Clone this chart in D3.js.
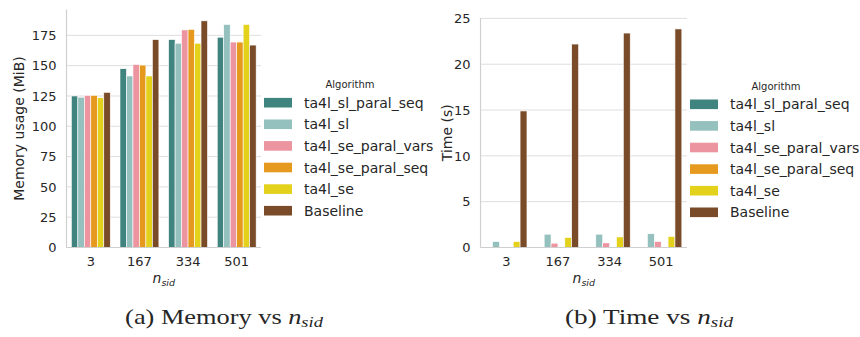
<!DOCTYPE html>
<html>
<head>
<meta charset="utf-8">
<script src="https://d3js.org/d3.v7.min.js"></script>
<style>
  body { margin: 0; background: #fff; }
  svg { display: block; }
  text { fill: #262626; }
</style>
</head>
<body>
<svg id="fig" width="860" height="337"></svg>
<script>
// categories on x (n_sid) and the algorithms (hue)
const categories = ['3', '167', '334', '501'];
const algorithms = ['ta4l_sl_paral_seq', 'ta4l_sl', 'ta4l_se_paral_vars', 'ta4l_se_paral_seq', 'ta4l_se', 'Baseline'];
const colors = ['#3f847f', '#94c0be', '#ec95a0', '#e6991f', '#e3d11c', '#7a4b29'];

// memory usage (MiB), one array per algorithm, ordered like categories
const memSlParalSeq = [125, 147.5, 171.5, 173.5];
const memSl = [124, 141.5, 168.5, 184];
const memSeParalVars = [125.5, 151, 179.5, 169.5];
const memSeParalSeq = [125.5, 150.5, 180, 169.5];
const memSe = [123.5, 141.5, 168.5, 184];
const memBaseline = [128, 171.5, 187, 167];

// time (s)
const timeSlParalSeq = [0.02, 0.05, 0.05, 0.05];
const timeSl = [0.65, 1.45, 1.45, 1.5];
const timeSeParalVars = [0, 0.47, 0.5, 0.65];
const timeSeParalSeq = [0, 0.05, 0.05, 0.05];
const timeSe = [0.65, 1.1, 1.15, 1.2];
const timeBaseline = [14.9, 22.2, 23.4, 23.85];

const memorySeries = [memSlParalSeq, memSl, memSeParalVars, memSeParalSeq, memSe, memBaseline];
const timeSeries = [timeSlParalSeq, timeSl, timeSeParalVars, timeSeParalSeq, timeSe, timeBaseline];

const svg = d3.select('#fig');
const sans = 'DejaVu Sans, sans-serif';

function drawPanel (series, opt) {
  const rows = [];
  categories.forEach((c, i) => {
    algorithms.forEach((a, j) => rows.push({cat: c, algo: a, value: series[j][i], k: j}));
  });

  const x = d3.scaleBand().domain(categories).range([opt.x0, opt.x1]).padding(0);
  const xs = d3.scaleBand().domain(algorithms)
    .range([x.bandwidth() * 0.1, x.bandwidth() * 0.9]).padding(0);
  // seaborn style: top at 5% above the largest bar
  const ymax = d3.max(rows, d => d.value) * 1.05;
  const y = d3.scaleLinear().domain([0, ymax]).range([opt.y0, opt.y1]);
  const ticks = d3.range(0, ymax, opt.step);

  const g = svg.append('g');

  // horizontal grid
  g.append('g')
    .selectAll('line')
    .data(ticks)
    .join('line')
    .attr('x1', opt.x0).attr('x2', opt.x1)
    .attr('y1', d => y(d)).attr('y2', d => y(d))
    .attr('stroke', '#dedede')
    .attr('stroke-width', 1);

  // bars
  g.append('g')
    .selectAll('rect')
    .data(rows)
    .join('rect')
    .attr('x', d => x(d.cat) + xs(d.algo))
    .attr('width', xs.bandwidth())
    .attr('y', d => y(d.value))
    .attr('height', d => y(0) - y(d.value))
    .attr('fill', d => colors[d.k])
    .attr('stroke', '#fff')
    .attr('stroke-width', 0.6);

  // left + bottom spines only (despined)
  g.append('line')
    .attr('x1', opt.x0).attr('x2', opt.x0)
    .attr('y1', opt.y1).attr('y2', opt.y0)
    .attr('stroke', '#cfcfcf').attr('stroke-width', 1.2);
  g.append('line')
    .attr('x1', opt.x0).attr('x2', opt.x1)
    .attr('y1', opt.y0).attr('y2', opt.y0)
    .attr('stroke', '#cfcfcf').attr('stroke-width', 1.2);

  const yAxis = g.append('g')
    .attr('transform', `translate(${opt.x0},0)`)
    .call(d3.axisLeft(y).tickValues(ticks).tickSize(0).tickPadding(10));
  const xAxis = g.append('g')
    .attr('transform', `translate(0,${opt.y0})`)
    .call(d3.axisBottom(x).tickSize(0).tickPadding(9));
  [yAxis, xAxis].forEach(a => {
    a.select('.domain').remove();
    a.selectAll('text')
      .attr('font-family', sans)
      .attr('font-size', 13)
      .attr('fill', '#262626');
  });

  // y label
  g.append('text')
    .attr('transform', `translate(${opt.ylabelX},${(opt.y0 + opt.y1) / 2}) rotate(-90)`)
    .attr('text-anchor', 'middle')
    .attr('font-family', sans)
    .attr('font-size', 14)
    .text(opt.ylabel);

  // x label n_sid
  const xl = g.append('text')
    .attr('x', (opt.x0 + opt.x1) / 2)
    .attr('y', 283)
    .attr('text-anchor', 'middle')
    .attr('font-family', sans)
    .attr('font-size', 14)
    .attr('font-style', 'italic');
  xl.append('tspan').text('n');
  xl.append('tspan').attr('font-size', 9.5).attr('dy', 3).text('sid');

  // legend
  const lg = g.append('g');
  lg.append('text')
    .attr('x', opt.legX + 86)
    .attr('y', opt.legY - 18)
    .attr('dy', '0.35em')
    .attr('text-anchor', 'middle')
    .attr('font-family', sans)
    .attr('font-size', 10)
    .text('Algorithm');
  const item = lg.selectAll('g')
    .data(algorithms)
    .join('g')
    .attr('transform', (d, i) => `translate(${opt.legX},${opt.legY + i * 21.6})`);
  item.append('rect')
    .attr('x', 0).attr('y', -4.8)
    .attr('width', 28).attr('height', 9.6)
    .attr('fill', (d, i) => colors[i]);
  item.append('text')
    .attr('x', 40)
    .attr('dy', '0.36em')
    .attr('font-family', sans)
    .attr('font-size', 14)
    .text(d => d);

  // caption below the subfigure, stretched to the width of the LaTeX caption
  const cap = svg.append('text')
    .attr('x', 0)
    .attr('y', 0)
    .attr('text-anchor', 'middle')
    .attr('font-family', 'Liberation Serif, serif')
    .attr('font-size', 20);
  cap.append('tspan').text(opt.caption);
  cap.append('tspan').attr('font-style', 'italic').text('n');
  cap.append('tspan').attr('font-style', 'italic').attr('font-size', 14).attr('dy', 3).text('sid');
  const w = cap.node().getComputedTextLength();
  cap.attr('transform', `translate(${opt.capX},323.5) scale(${opt.capW / w},1)`);
}

drawPanel(memorySeries, {
  x0: 66.5, x1: 261, y0: 247.5, y1: 9.5, step: 25,
  ylabel: 'Memory usage (MiB)', ylabelX: 24,
  legX: 264, legY: 102.7,
  caption: '(a) Memory vs ', capX: 224, capW: 198
});

drawPanel(timeSeries, {
  x0: 480.5, x1: 687, y0: 247.5, y1: 18, step: 5,
  ylabel: 'Time (s)', ylabelX: 452,
  legX: 690, legY: 104.3,
  caption: '(b) Time vs ', capX: 649, capW: 168
});
</script>
</body>
</html>
